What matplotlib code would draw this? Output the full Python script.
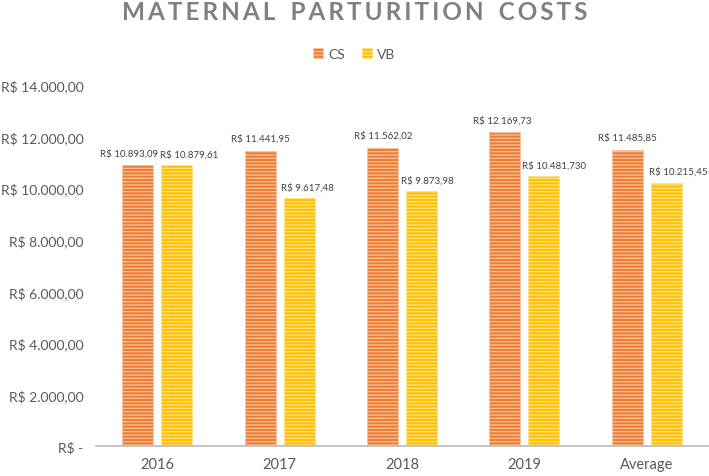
import matplotlib
matplotlib.use("Agg")
import matplotlib.pyplot as plt
import numpy as np
from matplotlib.patches import Patch

categories = ["2016", "2017", "2018", "2019", "Average"]
cs_values = [10893.09, 11441.95, 11562.02, 12169.73, 11485.85]
vb_values = [10879.61, 9617.48, 9873.98, 10481.73, 10215.45]
cs_labels = ["R$ 10.893,09", "R$ 11.441,95", "R$ 11.562,02", "R$ 12.169,73", "R$ 11.485,85"]
vb_labels = ["R$ 10.879,61", "R$ 9.617,48", "R$ 9.873,98", "R$ 10.481,730", "R$ 10.215,45"]
y_ticks = [0, 2000, 4000, 6000, 8000, 10000, 12000, 14000]

plt.rcParams['font.family'] = ['Lato', 'DejaVu Sans']
plt.rcParams['hatch.linewidth'] = 0.9

fig = plt.figure(figsize=(7.09, 4.77), dpi=100)
ax = fig.add_axes([96/709, 30/477, 612/709, 361/477])

x = np.arange(len(categories))
w = 0.253
off = 0.159
cs_color = '#ED7D31'
vb_color = '#FFC000'
ax.bar(x - off, cs_values, w, color=cs_color, edgecolor='#F8C3A0', hatch='-----', linewidth=0.6)
ax.bar(x + off, vb_values, w, color=vb_color, edgecolor='#FFE38A', hatch='-----', linewidth=0.6)

cs_dx = [-9, 0, 1, -3, 0]
vb_dx = [13, 8, 6, 10, 12]
for i in range(len(categories)):
    ax.annotate(cs_labels[i], (x[i] - off, cs_values[i]), xytext=(cs_dx[i]*0.72, 9),
                textcoords='offset points', ha='center', va='center', fontsize=7, color='#404040')
    ax.annotate(vb_labels[i], (x[i] + off, vb_values[i]), xytext=(vb_dx[i]*0.72, 8),
                textcoords='offset points', ha='center', va='center', fontsize=7, color='#404040')

def fmt(v):
    if v == 0:
        return "R$ -"
    s = f"{v:,.2f}"
    s = s.replace(',', 'X').replace('.', ',').replace('X', '.')
    return "R$ " + s

ax.set_ylim(0, 14000)
ax.set_xlim(-0.5, len(categories) - 0.5)
ax.set_yticks(y_ticks)
ax.set_yticklabels([fmt(v) for v in y_ticks], fontsize=10, color='#595959')
ax.set_xticks(x)
ax.set_xticklabels(categories, fontsize=10.5, color='#595959')
ax.tick_params(axis='both', length=0)
ax.tick_params(axis='y', pad=9)
ax.tick_params(axis='x', pad=8)
for s in ['top', 'right', 'left']:
    ax.spines[s].set_visible(False)
ax.spines['bottom'].set_color('#BFBFBF')
ax.spines['bottom'].set_linewidth(1.3)

title = "MATERNAL PARTURITION COSTS"
spaced = "\u2009".join(title).replace("\u2009 \u2009", "\u2002\u2009")
fig.text(0.5, 1 - 13/477, spaced,
         ha='center', va='center', fontsize=17.5, fontweight='bold', color='#808080')

handles = [Patch(facecolor=cs_color, edgecolor='#F8C3A0', hatch='-----', linewidth=0.6),
           Patch(facecolor=vb_color, edgecolor='#FFE38A', hatch='-----', linewidth=0.6)]
fig.legend(handles, ["CS", "VB"], loc='center', bbox_to_anchor=(0.5, 1 - 55/477), ncol=2,
           frameon=False, fontsize=10, labelcolor='#595959', handlelength=0.7, handleheight=0.7,
           handletextpad=0.4, columnspacing=1.2)

fig.savefig("out.png", dpi=100)
